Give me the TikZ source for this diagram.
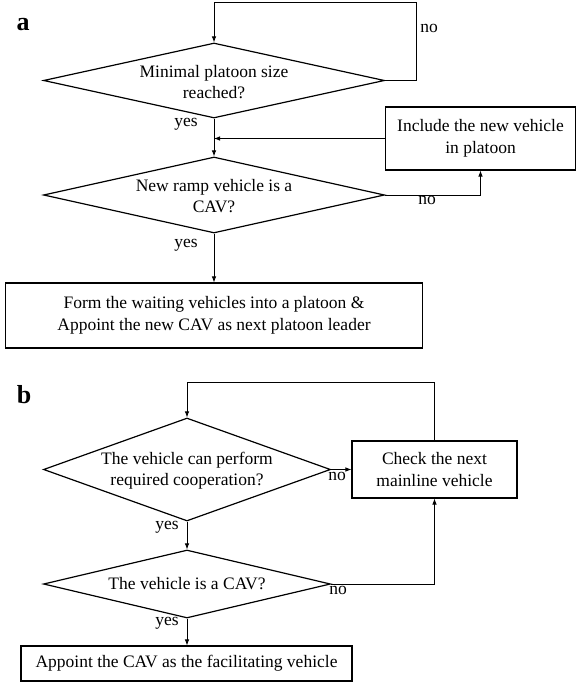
\documentclass[tikz,border=0pt]{standalone}
\usepackage{fontspec}
\setmainfont{Liberation Serif}
\usetikzlibrary{shapes.geometric,arrows.meta}
\begin{document}
\begin{tikzpicture}[x=1pt,y=-1pt,
  every node/.style={font=\fontsize{17.5}{21.5}\selectfont},
  dec/.style={diamond,draw,line width=1.2pt,inner sep=0pt},
  txt/.style={inner sep=0pt,align=center},
  proc/.style={rectangle,draw,line width=1.1pt,inner sep=0pt,align=center},
  arr/.style={line width=0.8pt,-{Latex[length=6pt,width=4.5pt]}},
  lbl/.style={inner sep=0pt},
  panel/.style={inner sep=0pt,font=\fontsize{26}{28}\selectfont\bfseries}]
\useasboundingbox (0,0) rectangle (577,684);
% panel a
\node[panel] (pa) at (23,25) {a};
\node[dec,minimum width=341pt,minimum height=75pt] (d1) at (214,80.5) {};
\node[txt] (t1) at (214,82) {Minimal platoon size\\reached?};
\node[dec,minimum width=341pt,minimum height=76pt] (d2) at (214,195) {};
\node[txt] (t2) at (214,196) {New ramp vehicle is a\\CAV?};
\node[proc,minimum width=190pt,minimum height=63pt] (inc) at (480.5,138.5) {Include the new vehicle\\in platoon};
\node[proc,minimum width=417pt,minimum height=65pt] (fa) at (214,315.5) {Form the waiting vehicles into a platoon \&\\Appoint the new CAV as next platoon leader};
\coordinate (la) at (416,2.5);
\draw[arr] (d1.east) -| (la) -| (d1.north);
\draw[arr] (d1.south) -- (d2.north);
\draw[arr] (inc.west) -- (inc.west -| d1.south);
\draw[arr] (d2.east) -| (inc.south);
\draw[arr] (d2.south) -- (fa.north);
\node[lbl] (na1) at (429,28) {no};
\node[lbl] (ya1) at (186,124) {yes};
\node[lbl] (na2) at (427,200) {no};
\node[lbl] (ya2) at (186,245) {yes};
% panel b
\node[panel] (pb) at (24,395) {b};
\node[dec,minimum width=287pt,minimum height=103pt] (d3) at (187,469.5) {};
\node[txt] (t3) at (187,470.5) {The vehicle can perform\\required cooperation?};
\node[proc,minimum width=165pt,minimum height=57pt] (chk) at (434.5,469.5) {Check the next\\mainline vehicle};
\node[dec,minimum width=287pt,minimum height=68pt] (d4) at (187,584) {};
\node[txt] (t4) at (187,584) {The vehicle is a CAV?};
\node[proc,minimum width=331pt,minimum height=35pt] (fb) at (186.5,663.5) {Appoint the CAV as the facilitating vehicle};
\coordinate (lb) at (434.5,382);
\draw[arr] (chk.north) -- (lb) -| (d3.north);
\draw[arr] (d3.east) -- (chk.west);
\draw[arr] (d3.south) -- (d4.north);
\draw[arr] (d4.east) -| (chk.south);
\draw[arr] (d4.south) -- (fb.north -| d4.south);
\node[lbl] (nb1) at (337,476) {no};
\node[lbl] (yb1) at (167,527) {yes};
\node[lbl] (nb2) at (338,590) {no};
\node[lbl] (yb2) at (167,623) {yes};
\end{tikzpicture}
\end{document}
